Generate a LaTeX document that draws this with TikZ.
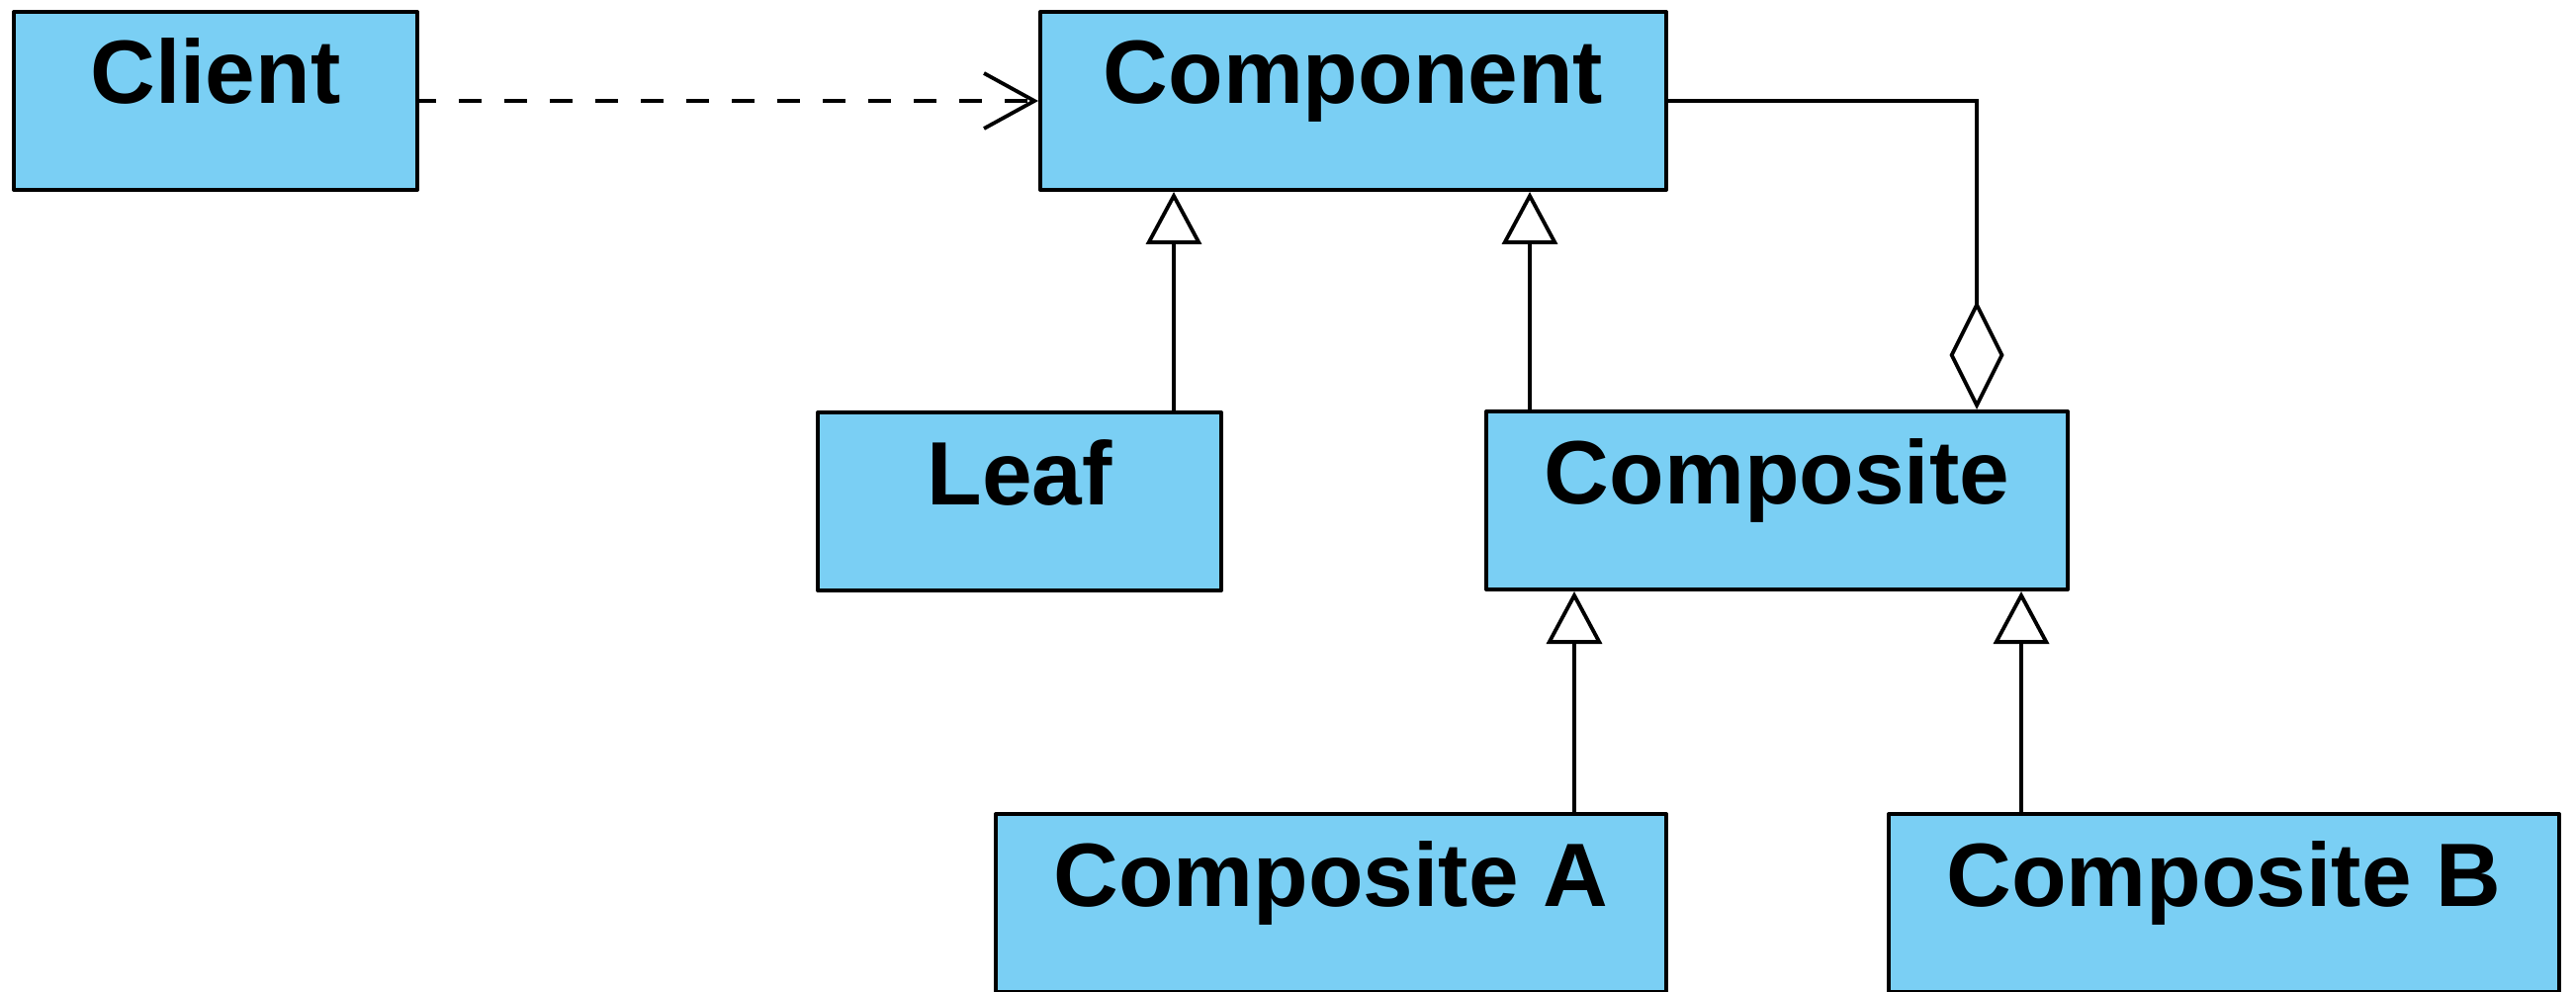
\documentclass[tikz,border=0pt]{standalone}
\usepackage{fontspec}
\setmainfont{Liberation Sans}
\usetikzlibrary{arrows.meta}
\definecolor{boxblue}{RGB}{122,207,244}
\begin{document}
\begin{tikzpicture}[x=1pt,y=-1pt,
  cls/.style={draw=black, line width=4pt, fill=boxblue, rectangle, inner xsep=0pt, inner ysep=0pt,
    text height=93pt, text depth=87pt, font=\fontsize{91}{110}\selectfont\bfseries, line join=round},
  conn/.style={line width=3.8pt, black},
  inherit/.style={conn, -{Triangle[open, length=53pt, width=56pt, line width=3.8pt]}},
  aggr/.style={conn, -{Diamond[open, length=110pt, width=55pt, line width=3.8pt]}},
  depend/.style={conn, dash pattern=on 23pt off 23pt, dash phase=6pt, -{Straight Barb[length=51pt, width=56pt, line width=3.8pt]}}]
\useasboundingbox (0,0) rectangle (2605,1003);
\node[cls, minimum width=408pt, anchor=north west] (client) at (12,10) {Client};
\node[cls, minimum width=633pt, anchor=north west] (comp) at (1050,10) {Component};
\node[cls, minimum width=408pt, anchor=north west] (leaf) at (825,415) {Leaf};
\node[cls, minimum width=588pt, anchor=north west] (compo) at (1501,414) {Composite};
\node[cls, minimum width=678pt, anchor=north west] (compa) at (1005,821) {Composite A};
\node[cls, minimum width=678pt, anchor=north west] (compb) at (1908,821) {Composite B};
\coordinate (bend) at (1999,100);
\draw[depend] (client.east) -- (comp.west);
\draw[inherit] (1187,0 |- leaf.north) -- (1187,0 |- comp.south);
\draw[inherit] (1547,0 |- compo.north) -- (1547,0 |- comp.south);
\draw[inherit] (1592,0 |- compa.north) -- (1592,0 |- compo.south);
\draw[inherit] (2044,0 |- compb.north) -- (2044,0 |- compo.south);
\draw[aggr] (comp.east) -| (bend |- compo.north);
\end{tikzpicture}
\end{document}
